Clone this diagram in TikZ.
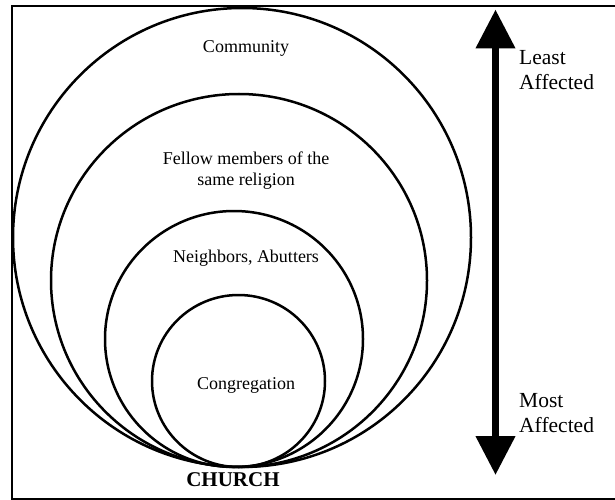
\documentclass[tikz,border=0pt]{standalone}
\usepackage{fontspec}
\setmainfont{Liberation Serif}
\usetikzlibrary{arrows.meta}

\tikzset{
  ring/.style={line width=2.5pt},
  lbl/.style={font=\fontsize{18}{21}\selectfont, align=center, inner sep=0pt},
  side/.style={font=\fontsize{21.5}{25}\selectfont, align=left, anchor=west, inner sep=0pt},
  bigtip/.tip={Triangle[width=38pt,length=39pt]}
}

\begin{document}
\begin{tikzpicture}[x=1pt,y=-1pt]

  \newcommand\Tx{246};
  \newcommand\Ax{495.5};

  \useasboundingbox (0,0) rectangle (615,500);
  \draw[line width=2pt] (11.5,6.5) rectangle (618,498.5); %% frame

  %% the four rings, all touching at the bottom
  \draw[ring] (242,237.5) ellipse (229 and 229.5);
  \draw[ring] (239,280.5) ellipse (188 and 186.5);
  \draw[ring] (234,339) ellipse (129 and 128);
  \draw[ring] (238.5,381) ellipse (86.5 and 86);

  \node[lbl] (comm) at (\Tx,48) {Community};
  \node[lbl] (fellow) at (\Tx,170.5) {Fellow members of the\\same religion};
  \node[lbl] (neigh) at (\Tx,258) {Neighbors, Abutters};
  \node[lbl] (cong) at (\Tx,385) {Congregation};
  \node[lbl, font=\fontsize{21}{25}\selectfont\bfseries] (church) at (233,480) {CHURCH};

  %% scale arrow
  \coordinate (top) at (\Ax,9.5);
  \coordinate (bot) at (\Ax,475);
  \draw[line width=7.5pt, bigtip-bigtip] (top) -- (bot);

  \node[side] (least) at (519,70) {Least\\Affected};
  \node[side] (most) at (519,413) {Most\\Affected};

\end{tikzpicture}
\end{document}
